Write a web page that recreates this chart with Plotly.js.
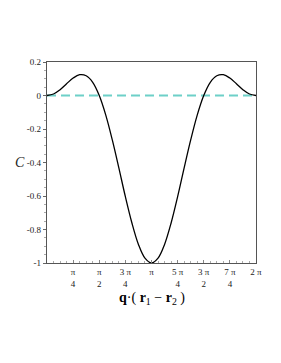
<!DOCTYPE html>
<html>
<head>
<meta charset="utf-8">
<script src="https://cdn.plot.ly/plotly-3.0.1.min.js"></script>
<style>html,body{margin:0;padding:0;background:#fff;}#chart{width:281px;height:363px;}</style>
</head>
<body>
<div id="chart"></div>
<script>
// phase q·(r1 − r2), radians (steps of π/16)
const phase = [0, 0.196, 0.393, 0.589, 0.785, 0.982, 1.178, 1.374, 1.571, 1.767, 1.963, 2.160, 2.356, 2.553, 2.749, 2.945, 3.142,
  3.338, 3.534, 3.731, 3.927, 4.123, 4.320, 4.516, 4.712, 4.909, 5.105, 5.301, 5.498, 5.694, 5.890, 6.087, 6.283];
// correlation C
const corr = [0, 0.009, 0.035, 0.070, 0.104, 0.124, 0.118, 0.079, 0, -0.117, -0.265, -0.432, -0.604, -0.761, -0.889, -0.971, -1,
  -0.971, -0.889, -0.761, -0.604, -0.432, -0.265, -0.117, 0, 0.079, 0.118, 0.124, 0.104, 0.070, 0.035, 0.009, 0];
// reference level
const refX = [0, 6.283];
const refY = [0, 0];

const xTickVals = [0.785, 1.571, 2.356, 3.142, 3.927, 4.712, 5.498, 6.283];
const xTickText = ['π<br>4', 'π<br>2', '3 π<br>4', 'π', '5 π<br>4', '3 π<br>2', '7 π<br>4', '2 π'];
const yTickVals = [-1, -0.8, -0.6, -0.4, -0.2, 0, 0.2];
const yTickText = ['-1', '-0.8', '-0.6', '-0.4', '-0.2', '0', '0.2'];

const serif = 'Liberation Serif, Times New Roman, serif';

const traces = [
  {x: refX, y: refY, mode: 'lines', line: {color: '#6dd0c8', width: 2, dash: '9px,5px'}, hoverinfo: 'skip'},
  {x: phase, y: corr, mode: 'lines', line: {color: '#000000', width: 1.3, shape: 'spline', smoothing: 1}}
];

const layout = {
  width: 281, height: 363,
  margin: {l: 47, r: 25, t: 62, b: 100},
  paper_bgcolor: '#ffffff', plot_bgcolor: '#ffffff',
  showlegend: false,
  font: {family: serif, color: '#000', size: 9},
  xaxis: {
    range: [0, 6.283], tickmode: 'array', tickvals: xTickVals, ticktext: xTickText,
    showgrid: false, zeroline: false, showline: true, linecolor: '#555', linewidth: 1.3,
    mirror: true, ticks: 'inside', ticklen: 3, tickcolor: '#888', tickwidth: 1,
    minor: {dtick: 0.19635, tick0: 0, ticks: 'inside', ticklen: 2, tickcolor: '#aaa'},
    tickfont: {family: serif, size: 9, color: '#222'}
  },
  yaxis: {
    range: [-1, 0.2], tickmode: 'array', tickvals: yTickVals, ticktext: yTickText,
    showgrid: false, zeroline: false, showline: true, linecolor: '#555', linewidth: 1.3,
    mirror: true, ticks: 'outside', ticklen: 3, tickcolor: '#666', tickwidth: 1,
    minor: {dtick: 0.05, ticks: 'outside', ticklen: 1.5, tickcolor: '#aaa'},
    tickfont: {family: serif, size: 9, color: '#222'}
  },
  annotations: [
    {text: '<i>C</i>', xref: 'paper', yref: 'paper', x: -0.13, y: 0.5, xanchor: 'center', yanchor: 'middle', showarrow: false,
     font: {family: serif, size: 14, color: '#222'}},
    {text: '<b>q</b>·( <b>r</b><sub>1</sub> − <b>r</b><sub>2</sub> )', xref: 'paper', yref: 'paper', x: 0.5, y: -0.175,
     xanchor: 'center', yanchor: 'middle', showarrow: false, font: {family: serif, size: 14, color: '#000'}}
  ]
};

Plotly.newPlot('chart', traces, layout, {displayModeBar: false, staticPlot: true});
</script>
</body>
</html>
